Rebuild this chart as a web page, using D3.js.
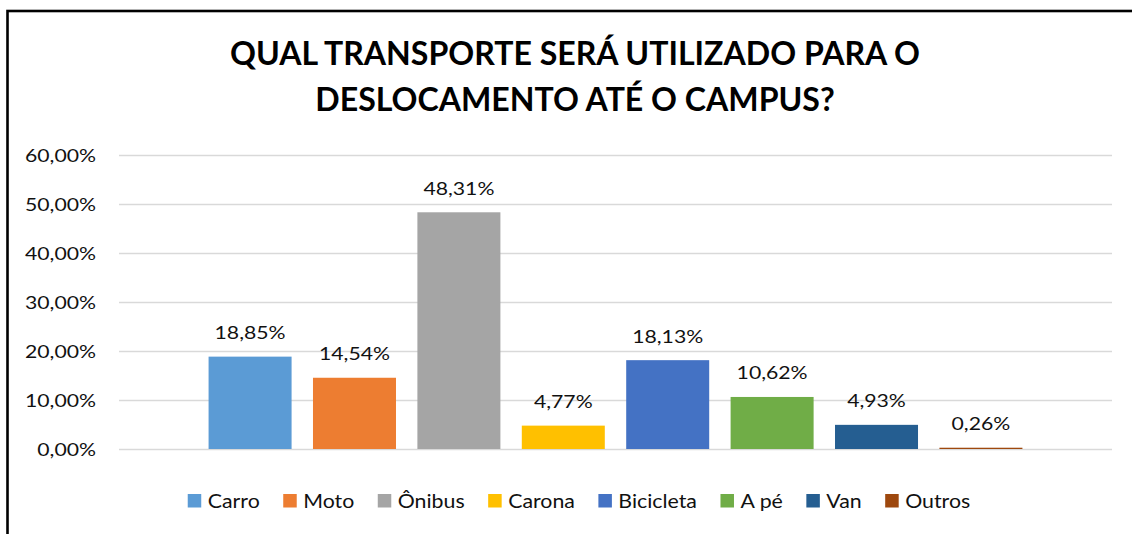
<!DOCTYPE html>
<html><head><meta charset="utf-8">
<script src="https://cdn.jsdelivr.net/npm/d3@7"></script>
<style>body{margin:0;background:#fff}</style></head>
<body><svg id="c" width="1132" height="534"></svg>
<script>
const categories = ["Carro","Moto","Ônibus","Carona","Bicicleta","A pé","Van","Outros"];
const values = [18.85,14.54,48.31,4.77,18.13,10.62,4.93,0.26];
const colors = ["#5B9BD5","#ED7D31","#A5A5A5","#FFC000","#4472C4","#70AD47","#255E91","#9E480E"];
const yTicks = [0,10,20,30,40,50,60];
const titleLines = ["QUAL TRANSPORTE SERÁ UTILIZADO PARA O","DESLOCAMENTO ATÉ O CAMPUS?"];
const fmt = v => v.toFixed(2).replace(".", ",") + "%";

const svg = d3.select("#c");
const FONT = "Lato, 'Open Sans', sans-serif";
const TXT = "#111";

// frame
svg.append("rect").attr("x",7.5).attr("y",11).attr("width",1300).attr("height",700)
  .attr("fill","#fff").attr("stroke","#000").attr("stroke-width",2.6);

const x = d3.scaleBand().domain(categories).range([119,1112]).paddingInner(0.205).paddingOuter(0.858);
const y = d3.scaleLinear().domain([0,60]).range([449,155]);

function stretch(sel, factor){
  sel.each(function(){
    const w = this.getComputedTextLength();
    d3.select(this).attr("textLength", w*factor).attr("lengthAdjust","spacingAndGlyphs");
  });
}
function factorFor(text, size, weight, target){
  const t = svg.append("text").attr("font-family",FONT).attr("font-size",size).attr("font-weight",weight).text(text);
  const w = t.node().getComputedTextLength(); t.remove(); return target / w;
}

// title
const tf = factorFor(titleLines[0], 31.5, "bold", 690);
const title = svg.append("g").selectAll("text").data(titleLines).join("text")
  .attr("x",575).attr("y",(d,i)=>65+i*46).attr("text-anchor","middle")
  .attr("font-family",FONT).attr("font-size",31.5).attr("font-weight","bold").attr("fill","#000")
  .text(d=>d);
stretch(title, tf);

// gridlines + y axis labels
const axis = d3.axisLeft(y).tickValues(yTicks).tickSize(-(1112-119)).tickFormat(d=>fmt(d)).tickPadding(23);
const ga = svg.append("g").attr("transform","translate(119,0)").call(axis);
ga.select(".domain").remove();
ga.selectAll(".tick line").attr("stroke","#d9d9d9").attr("stroke-width",1.5);
const tickText = ga.selectAll(".tick text").attr("font-family",FONT).attr("font-size",18)
  .attr("fill",TXT).attr("dy","0.36em");
stretch(tickText, factorFor("60,00%", 18, "normal", 71));

// bars
svg.append("g").selectAll("rect").data(values).join("rect")
  .attr("x",(d,i)=>x(categories[i])).attr("width",x.bandwidth())
  .attr("y",d=>y(d)).attr("height",d=>y(0)-y(d)).attr("fill",(d,i)=>colors[i]);

// data labels
const lab = svg.append("g").selectAll("text").data(values).join("text")
  .attr("x",(d,i)=>x(categories[i])+x.bandwidth()/2).attr("y",d=>y(d)-17.5)
  .attr("text-anchor","middle").attr("font-family",FONT).attr("font-size",18).attr("fill",TXT)
  .text(d=>fmt(d));
stretch(lab, factorFor("18,85%",18,"normal",71));

// legend
const lf = factorFor("Carro", 18.5, "normal", 52);
const lg = svg.append("g");
let cx = 0;
categories.forEach((c,i)=>{
  const g = lg.append("g");
  g.append("rect").attr("x",cx).attr("y",494).attr("width",13.5).attr("height",13.5).attr("fill",colors[i]);
  const t = g.append("text").attr("x",cx+20).attr("y",508).attr("font-family",FONT).attr("font-size",18.5).attr("fill",TXT).text(c);
  const w = t.node().getComputedTextLength()*lf;
  t.attr("textLength",w).attr("lengthAdjust","spacingAndGlyphs");
  cx += 20 + w + 23.5;
});
const total = cx - 23.5;
lg.attr("transform",`translate(${579-total/2},0)`);
</script></body></html>
